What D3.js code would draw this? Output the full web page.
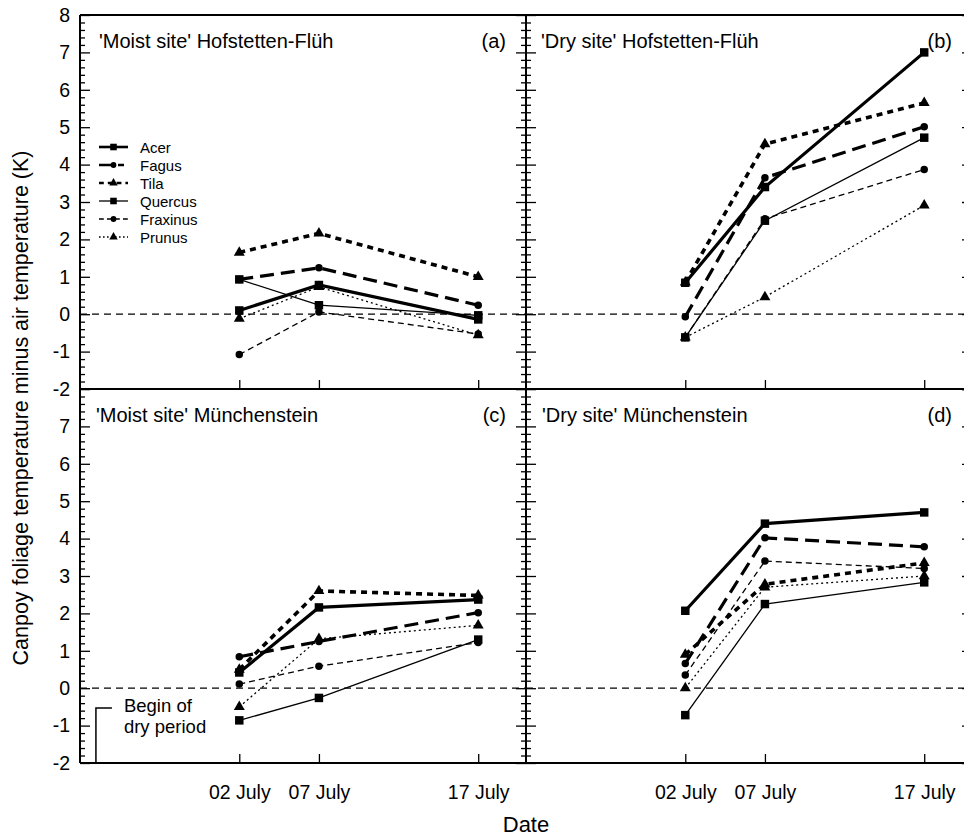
<!DOCTYPE html>
<html><head><meta charset="utf-8">
<script src="https://cdn.jsdelivr.net/npm/d3@7"></script>
<style>
body{margin:0;background:#fff}
svg{display:block}
text{font-family:"Liberation Sans",Arial,Helvetica,sans-serif;fill:#000}
</style>
</head><body>
<svg id="chart" width="964" height="837"></svg>
<script>
// ---- data ----
const speciesNames = ["Acer","Fagus","Tila","Quercus","Fraxinus","Prunus"];
const sampleDates = ["2001-07-02","2001-07-07","2001-07-17"];
const dateTickLabels = ["02 July","07 July","17 July"];
const dryPeriodStart = "2001-06-23";
const upperYTicks = [-2,-1,0,1,2,3,4,5,6,7,8];
const lowerYTicks = [-2,-1,0,1,2,3,4,5,6,7];
const panelTitles = ["'Moist site' Hofstetten-Flüh","'Dry site' Hofstetten-Flüh","'Moist site' Münchenstein","'Dry site' Münchenstein"];
const panelTags = ["(a)","(b)","(c)","(d)"];
// values per panel (a, b, c, d), each for 02, 07, 17 July
const acer     = [[0.10,0.78,-0.14],[0.84,3.40,7.00],[0.42,2.16,2.37],[2.07,4.40,4.70]];
const fagus    = [[0.93,1.24,0.24],[-0.07,3.65,5.01],[0.84,1.25,2.02],[0.66,4.02,3.78]];
const tila     = [[1.65,2.16,1.00],[0.85,4.55,5.65],[0.50,2.60,2.48],[0.90,2.78,3.35]];
const quercus  = [[0.93,0.24,-0.03],[-0.62,2.50,4.72],[-0.86,-0.26,1.30],[-0.72,2.25,2.83]];
const fraxinus = [[-1.08,0.06,-0.53],[-0.62,2.55,3.87],[0.11,0.59,1.22],[0.35,3.40,3.20]];
const prunus   = [[-0.12,0.73,-0.56],[-0.62,0.46,2.91],[-0.50,1.32,1.68],[0.00,2.70,3.00]];
const seriesValues = [acer,fagus,tila,quercus,fraxinus,prunus];

// ---- styles ----
const styles = [
  {w:3.2, dash:null,  sym:d3.symbolSquare,   size:72},
  {w:3.2, dash:"14,7",sym:d3.symbolCircle,   size:44},
  {w:3.6, dash:"6,5", sym:d3.symbolTriangle, size:52},
  {w:1.3, dash:null,  sym:d3.symbolSquare,   size:72},
  {w:1.3, dash:"6,4", sym:d3.symbolCircle,   size:44},
  {w:1.3, dash:"2,3", sym:d3.symbolTriangle, size:52}
];

const svg = d3.select("#chart");
const parse = d3.timeParse("%Y-%m-%d");
const PW = 446, PH = 374;
const x = d3.scaleTime().domain([parse("2001-06-22"), parse("2001-07-20")]).range([0, PW]);
const y = d3.scaleLinear().domain([-2, 8]).range([PH, 0]);
const dates = sampleDates.map(parse);
const majors = d3.range(-2, 8.001, 1);
const minors = d3.range(-2, 8.001, 0.2).filter(v => Math.abs(v - Math.round(v)) > 1e-6);

const panels = [
  {x0:80,  y0:15,  side:"left",  ticks:upperYTicks, titleDx:19, lower:false},
  {x0:526, y0:15,  side:"right", ticks:upperYTicks, titleDx:15, lower:false},
  {x0:80,  y0:389, side:"left",  ticks:lowerYTicks, titleDx:16, lower:true},
  {x0:526, y0:389, side:"right", ticks:lowerYTicks, titleDx:16, lower:true}
];

function styleAxis(g, sw){
  g.select(".domain").remove();
  g.selectAll("line").attr("stroke","#000").attr("stroke-width",sw);
}

panels.forEach((p, pi) => {
  const g = svg.append("g").attr("transform",`translate(${p.x0},${p.y0})`);

  // zero line
  g.append("line").attr("x1",0).attr("x2",PW).attr("y1",y(0)).attr("y2",y(0))
    .attr("stroke","#000").attr("stroke-width",1.3).attr("stroke-dasharray","7,5");

  // y ticks
  if (p.side === "left") {
    g.append("g").call(d3.axisRight(y).tickValues(majors).tickSize(10).tickFormat("")).call(styleAxis,1.3);
    g.append("g").call(d3.axisRight(y).tickValues(minors).tickSize(5).tickFormat("")).call(styleAxis,1.3);
    const lab = g.append("g").call(d3.axisLeft(y).tickValues(p.ticks).tickSize(0).tickPadding(10).tickFormat(d => String(d)));
    lab.select(".domain").remove();
    lab.selectAll("text").style("font-size","19.5px").attr("fill","#000").attr("font-family",null);
  } else {
    g.append("g").call(d3.axisRight(y).tickValues(majors).tickSize(10).tickFormat("")).call(styleAxis,1.3);
    g.append("g").call(d3.axisRight(y).tickValues(minors).tickSize(5).tickFormat("")).call(styleAxis,1.3);
    g.append("g").call(d3.axisLeft(y).tickValues(majors).tickSize(10).tickFormat("")).call(styleAxis,1.3);
    g.append("g").call(d3.axisLeft(y).tickValues(minors).tickSize(5).tickFormat("")).call(styleAxis,1.3);
    g.append("g").attr("transform",`translate(${PW},0)`)
      .call(d3.axisLeft(y).tickValues(majors).tickSize(10).tickFormat("")).call(styleAxis,1.3);
  }

  // x ticks (inward)
  g.append("g").attr("transform",`translate(0,${PH})`)
    .call(d3.axisTop(x).tickValues(dates).tickSize(9).tickFormat("")).call(styleAxis,1.3);
  if (p.lower) {
    const xl = g.append("g").attr("transform",`translate(0,${PH})`)
      .call(d3.axisBottom(x).tickValues(dates).tickSize(0).tickPadding(22)
        .tickFormat((d,i) => dateTickLabels[i]));
    xl.select(".domain").remove();
    xl.selectAll("text").style("font-size","19.5px").attr("fill","#000").attr("font-family",null);
  }

  // frame
  const fr = g.append("g").attr("stroke","#000").attr("stroke-width",2).attr("fill","none");
  fr.append("line").attr("x1",0).attr("x2",0).attr("y1",0).attr("y2",PH);
  fr.append("line").attr("x1",0).attr("x2",PW).attr("y1",PH).attr("y2",PH);
  fr.append("line").attr("x1",0).attr("x2",PW).attr("y1",0).attr("y2",0);
  fr.append("line").attr("x1",PW).attr("x2",PW).attr("y1",0).attr("y2",PH);

  // series lines
  const line = d3.line().x((d,i) => x(dates[i])).y(d => y(d));
  seriesValues.forEach((sv, si) => {
    const st = styles[si];
    g.append("path").datum(sv[pi]).attr("d", line).attr("fill","none")
      .attr("stroke","#000").attr("stroke-width",st.w)
      .attr("stroke-dasharray", st.dash);
  });
  seriesValues.forEach((sv, si) => {
    const st = styles[si];
    g.selectAll(null).data(sv[pi]).join("path")
      .attr("transform",(d,i) => `translate(${x(dates[i])},${y(d)})`)
      .attr("d", d3.symbol().type(st.sym).size(st.size)).attr("fill","#000");
  });

  // titles
  g.append("text").attr("x",p.titleDx).attr("y",33).style("font-size","20px").text(panelTitles[pi]);
  g.append("text").attr("x",PW-20).attr("y",33).attr("text-anchor","end").style("font-size","20px").text(panelTags[pi]);

  // legend in panel a
  if (pi === 0) {
    const lg = g.append("g").attr("transform","translate(19,132)");
    speciesNames.forEach((nm, si) => {
      const st = styles[si];
      const row = lg.append("g").attr("transform",`translate(0,${si*18})`);
      row.append("line").attr("x1",0).attr("x2",29).attr("y1",0).attr("y2",0)
        .attr("stroke","#000").attr("stroke-width",Math.min(st.w,2.6))
        .attr("stroke-dasharray", st.dash ? (si===1 ? "15,4,6" : st.dash.split(",").map(v=>v*0.8).join(",")) : null);
      row.append("path").attr("transform","translate(14.5,0)")
        .attr("d", d3.symbol().type(st.sym).size(st.size*0.6)).attr("fill","#000");
      row.append("text").attr("x",41).attr("y",5.5).style("font-size","15px").text(nm);
    });
  }

  // begin of dry period
  if (pi === 2) {
    const bx = x(parse(dryPeriodStart));
    g.append("path").attr("d",`M${bx},${PH}V${y(-0.53)}H${bx+16}`)
      .attr("fill","none").attr("stroke","#000").attr("stroke-width",1.5);
    g.append("text").attr("x",bx+28).attr("y",y(-0.53)+4).style("font-size","18.5px").text("Begin of");
    g.append("text").attr("x",bx+28).attr("y",y(-0.53)+25).style("font-size","18.5px").text("dry period");
  }
});

// axis titles
svg.append("text").attr("transform","translate(28,408) rotate(-90)").attr("text-anchor","middle")
  .style("font-size","21.5px").text("Canpoy foliage temperature minus air temperature (K)");
svg.append("text").attr("x",526).attr("y",832).attr("text-anchor","middle")
  .style("font-size","22px").text("Date");
</script>
</body></html>
